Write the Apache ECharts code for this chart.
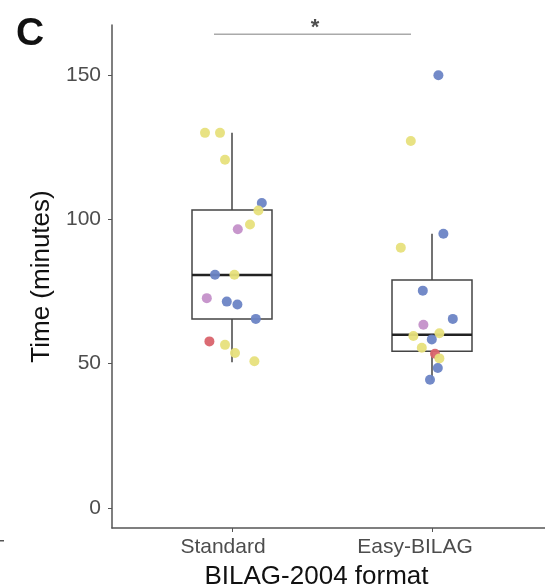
<!DOCTYPE html>
<html>
<head>
<meta charset="utf-8">
<script src="https://cdn.jsdelivr.net/npm/echarts@6/dist/echarts.min.js"></script>
<style>html,body{margin:0;padding:0;background:#fff;}#main{width:545px;height:587px;}</style>
</head>
<body>
<div id="main"></div>
<script>
// Categories
var categories = ['Standard', 'Easy-BILAG'];
var yTicks = [0, 50, 100, 150];

// Box statistics [position, low whisker, Q1, median, Q3, high whisker]
var boxStats = [
  [1, 50.5, 65.5, 80.7, 103.3, 130],
  [2, 44.2, 54.3, 60, 79, 95]
];

// Jittered points: [x position, minutes, colour group]
var standardPoints = [
  [0.865, 130, 'y'], [0.94, 130, 'y'], [0.965, 120.7, 'y'], [1.149, 105.7, 'b'],
  [1.132, 103.1, 'y'], [1.09, 98.2, 'y'], [1.029, 96.6, 'p'], [0.915, 80.8, 'b'],
  [1.012, 80.8, 'y'], [0.874, 72.7, 'p'], [0.974, 71.5, 'b'], [1.027, 70.5, 'b'],
  [1.119, 65.5, 'b'], [0.887, 57.7, 'r'], [0.965, 56.5, 'y'], [1.015, 53.7, 'y'],
  [1.112, 50.8, 'y']
];
var easyPoints = [
  [2.032, 150, 'b'], [1.894, 127.2, 'y'], [2.057, 95, 'b'], [1.844, 90.2, 'y'],
  [1.954, 75.3, 'b'], [2.104, 65.5, 'b'], [1.957, 63.5, 'p'], [1.907, 59.6, 'y'],
  [2.037, 60.5, 'y'], [1.999, 58.4, 'b'], [1.949, 55.5, 'y'], [2.015, 53.4, 'r'],
  [2.037, 51.8, 'y'], [2.029, 48.5, 'b'], [1.99, 44.4, 'b']
];

// Significance bracket
var sigBar = [[0.91, 164.2], [1.895, 164.2]];
var sigLabel = [[1.415, 164.2]];

var colorMap = { y: '#e7e07c', b: '#6b84c5', p: '#c490c9', r: '#d9636c' };

var allPoints = standardPoints.concat(easyPoints).map(function (d) {
  return { value: [d[0], d[1]], itemStyle: { color: colorMap[d[2]] } };
});

var chart = echarts.init(document.getElementById('main'));
var font = 'Liberation Sans, Arial, sans-serif';
var tickTextStyle = { color: '#4d4d4d', fontSize: 21, fontFamily: font };

chart.setOption({
  animation: false,
  backgroundColor: '#fff',
  grid: { left: 112, right: 0, top: 25, bottom: 59, containLabel: false, outerBoundsMode: 'none' },
  xAxis: {
    type: 'value', min: 0.4, max: 2.565,
    splitLine: { show: false },
    axisLine: { show: true, onZero: false, lineStyle: { color: '#555', width: 1.5 } },
    axisTick: { show: true, customValues: [1, 2], length: 4, lineStyle: { color: '#555' } },
    axisLabel: {
      customValues: [1, 2], color: '#4d4d4d', fontSize: 21, fontFamily: font, margin: 9,
      formatter: function (v) {
        var i = Math.round(v) - 1;
        return '{l' + i + '|' + categories[i] + '}';
      },
      rich: {
        l0: Object.assign({ padding: [0, 18, 0, 0] }, tickTextStyle),
        l1: Object.assign({ padding: [0, 34, 0, 0] }, tickTextStyle)
      }
    },
    name: 'BILAG-2004 format', nameLocation: 'middle', nameGap: 36,
    nameTextStyle: { color: '#111', fontSize: 26, fontFamily: font, padding: [0, 24, 0, 0] },
    nameMoveOverlap: false
  },
  yAxis: {
    type: 'value', min: -7, max: 167.4,
    splitLine: { show: false },
    axisLine: { show: true, onZero: false, lineStyle: { color: '#555', width: 1.5 } },
    axisTick: { show: true, customValues: yTicks, length: 4, lineStyle: { color: '#555' } },
    axisLabel: { customValues: yTicks, color: '#4d4d4d', fontSize: 21, fontFamily: font, margin: 11 },
    name: 'Time (minutes)', nameLocation: 'middle', nameGap: 55, nameRotate: 90,
    nameTextStyle: { color: '#111', fontSize: 26, fontFamily: font }
  },
  series: [
    {
      type: 'custom',
      data: boxStats,
      z: 2,
      renderItem: function (params, api) {
        var x = api.value(0);
        var half = api.size([0.4, 0])[0] / 2;
        var lo = api.coord([x, api.value(1)]);
        var q1 = api.coord([x, api.value(2)]);
        var md = api.coord([x, api.value(3)]);
        var q3 = api.coord([x, api.value(4)]);
        var hi = api.coord([x, api.value(5)]);
        var st = { stroke: '#444', lineWidth: 1.5, fill: null };
        return {
          type: 'group',
          children: [
            { type: 'line', shape: { x1: hi[0], y1: hi[1], x2: q3[0], y2: q3[1] }, style: st },
            { type: 'line', shape: { x1: q1[0], y1: q1[1], x2: lo[0], y2: lo[1] }, style: st },
            { type: 'rect', shape: { x: q3[0] - half, y: q3[1], width: 2 * half, height: q1[1] - q3[1] }, style: { stroke: '#444', lineWidth: 1.5, fill: '#fff' } },
            { type: 'line', shape: { x1: md[0] - half, y1: md[1], x2: md[0] + half, y2: md[1] }, style: { stroke: '#222', lineWidth: 2.5 } }
          ]
        };
      }
    },
    {
      type: 'scatter',
      data: allPoints,
      symbolSize: 10,
      z: 3,
      itemStyle: { opacity: 0.95 }
    },
    {
      type: 'line',
      data: sigBar,
      symbol: 'none',
      clip: false,
      lineStyle: { color: '#aaa', width: 1.5 },
      z: 2
    },
    {
      type: 'scatter',
      data: sigLabel,
      symbolSize: 0,
      clip: false,
      label: { show: true, position: 'top', distance: -5, formatter: '*', fontSize: 22, fontWeight: 'bold', color: '#222', fontFamily: font }
    }
  ],
  graphic: [
    { type: 'text', left: 16, top: 15, style: { text: 'C', fontSize: 39, fontWeight: 'bold', fill: '#111', fontFamily: font } },
    { type: 'rect', left: 0, top: 540, shape: { width: 4, height: 1.5 }, style: { fill: '#555' } }
  ]
});
</script>
</body>
</html>
